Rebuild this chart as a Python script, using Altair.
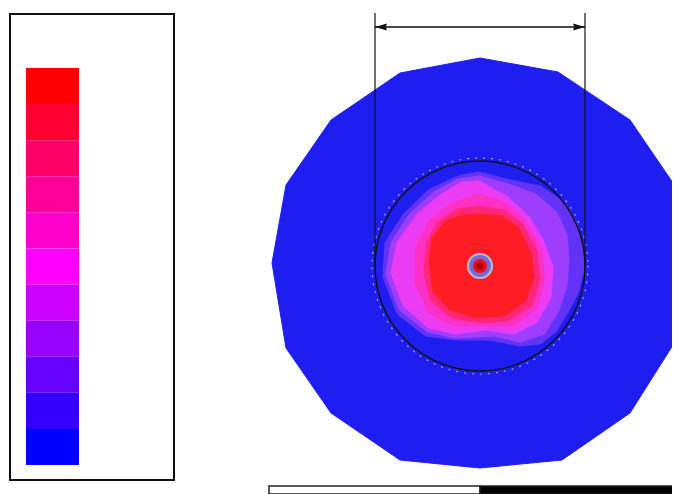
import altair as alt
import pandas as pd

# ---------------- data (figure units: pixels from the disk centre, y up) -------------
# colour scale (top to bottom of the legend bar)
legend_colors = ["#FF0000", "#FF0033", "#FF0066", "#FF0099", "#FF00CC", "#FF00FF",
                 "#CC00FF", "#9900FF", "#6600FF", "#3300FF", "#0000FF"]
legend_levels = [11, 10, 9, 8, 7, 6, 5, 4, 3, 2, 1]

# outer 16-sided disk
disk_x = [0, -80, -149, -194, -208, -194, -149, -80, 0, 82, 150, 193, 210, 193, 150, 78]
disk_y = [207, 192, 145, 80, 2, -83, -148, -195, -203, -195, -148, -80, 0, 82, 145, 193]

# contour bands, outermost first
band_violet = [(-1, 92), (30, 84), (60, 78), (84, 62), (96, 42), (102, 15), (103, -5), (97, -28),
               (88, -45), (76, -65), (60, -78), (40, -80), (10, -74), (-24, -74), (-54, -70),
               (-82, -48), (-96, -12), (-94, 22), (-76, 50), (-50, 75), (-22, 88)]
band_purple = [(-1, 88), (28, 80), (55, 70), (76, 52), (86, 30), (88, 5), (86, -20), (78, -45),
               (64, -68), (40, -76), (14, -70), (-24, -72), (-52, -66), (-80, -44), (-93, -10),
               (-88, 22), (-70, 50), (-46, 72), (-22, 85)]
band_magenta = [(-1, 83), (26, 68), (48, 48), (62, 25), (72, -2), (70, -32), (56, -57), (34, -68),
                (6, -64), (-24, -68), (-51, -62), (-76, -40), (-88, -8), (-82, 22), (-62, 50),
                (-38, 70), (-18, 82)]
band_hotpink = [(-1, 70), (24, 62), (44, 44), (60, 18), (64, -14), (57, -42), (34, -60), (4, -60),
                (-26, -60), (-50, -48), (-64, -18), (-64, 16), (-50, 44), (-26, 62)]
band_pink = [(-1, 58), (24, 54), (42, 40), (56, 14), (59, -14), (51, -40), (28, -55), (0, -57),
             (-28, -52), (-48, -35), (-55, -8), (-53, 20), (-42, 42), (-22, 55)]
band_red = [(-1, 50), (22, 48), (38, 36), (50, 12), (53, -12), (45, -35), (24, -50), (-4, -52),
            (-30, -44), (-46, -26), (-50, 2), (-47, 26), (-34, 43), (-18, 49)]
bands = [band_violet, band_purple, band_magenta, band_hotpink, band_pink, band_red]
band_colors = ["#6A36F8", "#A640FF", "#F43CF4", "#FF30C4", "#FF2670", "#FF1C1C"]

# measured circle and dimension
circle_r = 105
centre = (0, -1)

# ---------------- layout (style constants) ----------------
W, H = 664, 486
XDOM = [-472, 192]
YDOM = [-229, 257]
LEG_FRAME = dict(x=-470, x2=-306, y=251, y2=-215)
LEG_BAR = dict(x=-454, x2=-401, top=197, bottom=-200)
DIM_Y = 238
VLINE_TOP = 252
SCALEBAR = dict(x0=-211, xm=0, x1=200, y=-221, y2=-229)

xs = alt.Scale(domain=XDOM, nice=False, zero=False)
ys = alt.Scale(domain=YDOM, nice=False, zero=False)
X = alt.X("x:Q", scale=xs, axis=None)
Y = alt.Y("y:Q", scale=ys, axis=None)


def sym(r):
    """Vega symbol size for a circle of pixel radius r."""
    return (2 * r) ** 2


layers = []

# legend frame
frame_df = pd.DataFrame([{"x": LEG_FRAME["x"], "x2": LEG_FRAME["x2"], "y": LEG_FRAME["y"], "y2": LEG_FRAME["y2"]}])
layers.append(alt.Chart(frame_df).mark_rect(fill="white", stroke="#111111", strokeWidth=2).encode(
    x=X, x2="x2:Q", y=Y, y2="y2:Q"))

# legend bands
step = (LEG_BAR["top"] - LEG_BAR["bottom"]) / len(legend_levels)
leg_rows = []
for i, (lv, c) in enumerate(zip(legend_levels, legend_colors)):
    leg_rows.append({"level": lv, "color": c, "x": LEG_BAR["x"], "x2": LEG_BAR["x2"],
                     "y": LEG_BAR["top"] - i * step, "y2": LEG_BAR["top"] - (i + 1) * step})
leg_df = pd.DataFrame(leg_rows)
layers.append(alt.Chart(leg_df).mark_rect(strokeWidth=0).encode(
    x=X, x2="x2:Q", y=Y, y2="y2:Q", fill=alt.Fill("color:N", scale=None)))

# outer disk
disk_df = pd.DataFrame({"x": disk_x, "y": disk_y, "i": range(len(disk_x))})
layers.append(alt.Chart(disk_df).mark_line(interpolate="linear-closed", fill="#1E1EF0",
                                           stroke="#1E1EF0", strokeWidth=1).encode(
    x=X, y=Y, order="i:Q"))

# contour bands
for pts, col in zip(bands, band_colors):
    bdf = pd.DataFrame({"x": [p[0] for p in pts], "y": [p[1] for p in pts], "i": range(len(pts))})
    layers.append(alt.Chart(bdf).mark_line(interpolate="linear-closed", fill=col, stroke=col,
                                           strokeWidth=3, strokeJoin="round", opacity=0.9).encode(
        x=X, y=Y, order="i:Q"))

cdf = pd.DataFrame([{"x": centre[0], "y": centre[1]}])

# dotted ring just outside the circle
layers.append(alt.Chart(cdf).mark_point(shape="circle", size=sym(circle_r + 3),
                                        filled=False, stroke="#E8E8FF", strokeWidth=1.2,
                                        strokeDash=[1, 7], strokeCap="round",
                                        opacity=0.7).encode(x=X, y=Y))
# measured circle
layers.append(alt.Chart(cdf).mark_point(shape="circle", size=sym(circle_r),
                                        filled=False, stroke="#111111", strokeWidth=1.4,
                                        opacity=1).encode(x=X, y=Y))

# centre marker
for r, fill, stroke, sw in [(12, "#7A66D8", "#B8B8C8", 2.2), (7, "#E81010", "#E81010", 0),
                            (3.5, "#B00010", "#B00010", 0)]:
    layers.append(alt.Chart(cdf).mark_point(shape="circle", size=sym(r), filled=True,
                                            fill=fill, stroke=stroke, strokeWidth=sw,
                                            opacity=1).encode(x=X, y=Y))

# vertical extension lines
vl_df = pd.DataFrame({"x": [-circle_r, circle_r], "y": [VLINE_TOP, VLINE_TOP], "y2": [centre[1], centre[1]]})
layers.append(alt.Chart(vl_df).mark_rule(color="#111111", strokeWidth=1.2).encode(
    x=X, y=Y, y2="y2:Q"))

# dimension line with arrowheads
dim_df = pd.DataFrame([{"x": -circle_r, "x2": circle_r, "y": DIM_Y}])
layers.append(alt.Chart(dim_df).mark_rule(color="#111111", strokeWidth=1.4).encode(
    x=X, x2="x2:Q", y=Y))
arrow_df = pd.DataFrame({"x": [-circle_r + 6, circle_r - 6], "y": [DIM_Y, DIM_Y],
                         "side": ["l", "r"]})
layers.append(alt.Chart(arrow_df).mark_point(filled=True, size=144, color="#111111", opacity=1).encode(
    x=X, y=Y,
    shape=alt.Shape("side:N", scale=alt.Scale(domain=["l", "r"],
                                              range=["M -1 0 L 1 -0.6 L 0.8 0 L 1 0.6 Z",
                                                     "M 1 0 L -1 -0.6 L -0.8 0 L -1 0.6 Z"]),
                    legend=None)))

# scale bar at the bottom
sb_df = pd.DataFrame({"x": [SCALEBAR["x0"], SCALEBAR["xm"]], "x2": [SCALEBAR["xm"], SCALEBAR["x1"]],
                      "y": [SCALEBAR["y"]] * 2, "y2": [SCALEBAR["y2"]] * 2,
                      "color": ["white", "black"]})
layers.append(alt.Chart(sb_df).mark_rect(stroke="#222222", strokeWidth=1.5).encode(
    x=X, x2="x2:Q", y=Y, y2="y2:Q", fill=alt.Fill("color:N", scale=None)))

chart = alt.layer(*layers).properties(
    width=W, height=H, padding=0, autosize=alt.AutoSizeParams(type="none"),
    background="white"
).configure_view(stroke=None)

chart.save("out.html", embed_options={"renderer": "svg", "actions": False})
